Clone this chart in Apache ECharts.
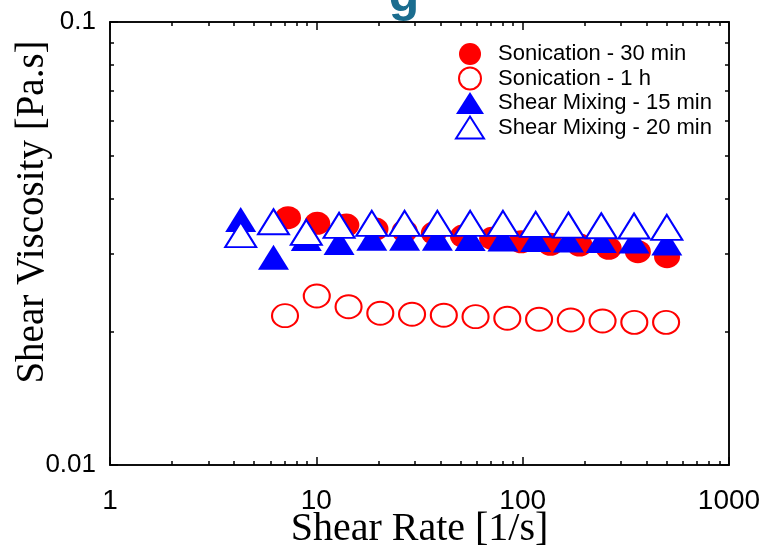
<!DOCTYPE html>
<html>
<head>
<meta charset="utf-8">
<script src="https://cdn.jsdelivr.net/npm/echarts@6/dist/echarts.min.js"></script>
<style>html,body{margin:0;padding:0;background:#fff;}#c{width:764px;height:545px;}</style>
</head>
<body>
<div id="c"></div>
<script>
// ---- data ----
const sonic30X = [7.29, 10.1, 13.98, 19.35, 26.79, 37.1, 51.35, 71.11, 98.45, 136.3, 188.7, 261.3, 361.7, 500.9];
const sonic30Y = [0.03616, 0.03511, 0.03481, 0.03409, 0.03374, 0.03339, 0.03287, 0.03248, 0.03191, 0.03149, 0.03137, 0.03084, 0.0303, 0.02953];
const sonic1hX = [7.05, 10.05, 14.33, 20.42, 29.1, 41.48, 59.11, 84.25, 120.1, 171.1, 243.9, 347.6, 495.6];
const sonic1hY = [0.02173, 0.02407, 0.02277, 0.022, 0.02189, 0.02178, 0.02162, 0.02144, 0.02133, 0.02125, 0.02114, 0.02099, 0.02099];
const shearX = [4.3, 6.2, 8.94, 12.89, 18.57, 26.78, 38.61, 55.66, 80.25, 115.7, 166.7, 240.4, 346.5, 499.6];
const shear15Y = [0.03582, 0.02945, 0.03245, 0.03177, 0.0325, 0.0325, 0.0325, 0.03245, 0.03237, 0.03228, 0.0322, 0.03212, 0.03203, 0.0317];
const shear20Y = [0.03311, 0.03541, 0.03352, 0.03475, 0.03511, 0.03511, 0.03511, 0.03511, 0.03511, 0.03493, 0.03481, 0.03468, 0.03463, 0.0344];
const seriesNames = ['Sonication - 30 min', 'Sonication - 1 h', 'Shear Mixing - 15 min', 'Shear Mixing - 20 min'];
const legendIcons = ['circle', 'circle', 'triangle', 'triangle'];
const xMajorTicks = [1, 10, 100, 1000];
const xMinorTicks = [2,3,4,5,6,7,8,9,20,30,40,50,60,70,80,90,200,300,400,500,600,700,800,900];
const yMajorTicks = [0.01, 0.1];
const yMinorTicks = [0.02,0.03,0.04,0.05,0.06,0.07,0.08,0.09];
const xTitle = 'Shear Rate [1/s]';
const yTitle = 'Shear Viscosity [Pa.s]';
const topTitle = 'g';

const zip = (xs, ys) => xs.map((x, i) => [x, ys[i]]);
const chart = echarts.init(document.getElementById('c'), null, {renderer: 'canvas'});
const black = '#000';
const sans = 'Liberation Sans, Arial, sans-serif';
const serif = 'Liberation Serif, Times New Roman, serif';
const fmt = v => String(+(+v).toPrecision(6));

function xAx(pos, ticks, len, labels) {
  return {
    type: 'log', logBase: 10, min: 1, max: 1000, position: pos,
    axisLine: {show: true, lineStyle: {color: black, width: 1.5}},
    axisTick: {show: true, inside: true, length: len, customValues: ticks, lineStyle: {color: black, width: 1.5}},
    axisLabel: labels ? {show: true, customValues: xMajorTicks, margin: 22, formatter: fmt, fontFamily: sans, fontSize: 28, color: black} : {show: false},
    splitLine: {show: false}, minorTick: {show: false},
    name: labels ? xTitle : '', nameLocation: 'middle', nameGap: 44, nameMoveOverlap: false,
    nameTextStyle: {fontFamily: serif, fontSize: 40, color: black}
  };
}
function yAx(pos, ticks, len, labels) {
  return {
    type: 'log', logBase: 10, min: 0.01, max: 0.1, position: pos,
    axisLine: {show: true, lineStyle: {color: black, width: 1.5}},
    axisTick: {show: true, inside: true, length: len, customValues: ticks, lineStyle: {color: black, width: 1.5}},
    axisLabel: labels ? {show: true, customValues: yMajorTicks, margin: 14, formatter: fmt, fontFamily: sans, fontSize: 26, color: black} : {show: false},
    splitLine: {show: false}, minorTick: {show: false}
  };
}

const option = {
  backgroundColor: '#fff',
  animation: false,
  grid: {left: 110, right: 35, top: 22, bottom: 80, containLabel: false, outerBoundsMode: 'none'},
  xAxis: [xAx('bottom', xMajorTicks, 8, true), xAx('bottom', xMinorTicks, 4, false), xAx('top', xMajorTicks, 8, false), xAx('top', xMinorTicks, 4, false)],
  yAxis: [yAx('left', yMajorTicks, 8, true), yAx('left', yMinorTicks, 4, false), yAx('right', yMajorTicks, 8, false), yAx('right', yMinorTicks, 4, false)],
  legend: {
    orient: 'vertical', left: 450, top: 38,
    itemWidth: 28, itemHeight: 22, itemGap: 1.5, symbolKeepAspect: false,
    textStyle: {fontFamily: sans, fontSize: 22, color: black, padding: [0, 0, 0, 9], lineHeight: 22},
    data: seriesNames.map((n, i) => ({name: n, icon: legendIcons[i]}))
  },
  graphic: [
    {type: 'text', x: 33, y: 212, rotation: Math.PI / 2,
     style: {text: yTitle, fontFamily: serif, fontSize: 39, fill: black, align: 'center', verticalAlign: 'middle'}},
    {type: 'text', x: 404, y: -3,
     style: {text: topTitle, fontFamily: sans, fontWeight: 'bold', fontSize: 50, fill: '#1b6d8f', align: 'center', verticalAlign: 'middle'}}
  ],
  series: [
    {name: seriesNames[0], type: 'scatter', data: zip(sonic30X, sonic30Y), symbol: 'circle', symbolSize: [26, 23],
     itemStyle: {color: '#ff0000', opacity: 1}},
    {name: seriesNames[1], type: 'scatter', data: zip(sonic1hX, sonic1hY), symbol: 'circle', symbolSize: [26, 23],
     itemStyle: {color: '#ffffff', borderColor: '#ff0000', borderWidth: 2, opacity: 1}},
    {name: seriesNames[2], type: 'scatter', data: zip(shearX, shear15Y), symbol: 'triangle', symbolSize: [31, 25],
     itemStyle: {color: '#0000ff', opacity: 1}},
    {name: seriesNames[3], type: 'scatter', data: zip(shearX, shear20Y), symbol: 'triangle', symbolSize: [31, 25],
     itemStyle: {color: '#ffffff', borderColor: '#0000ff', borderWidth: 2, opacity: 1}}
  ]
};
chart.setOption(option);
</script>
</body>
</html>
